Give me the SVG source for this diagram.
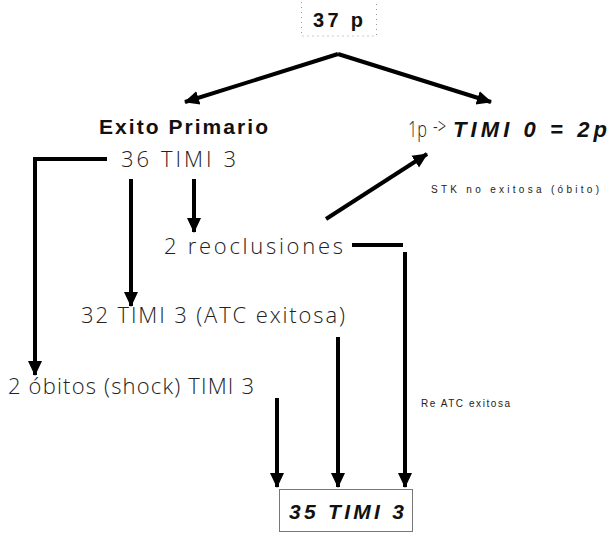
<svg xmlns="http://www.w3.org/2000/svg" width="616" height="535" viewBox="0 0 616 535">
<style>
.lt{font-family:"Open Sans","Liberation Sans",Arial,sans-serif;font-size:22px;fill:#222;font-weight:300}
.bd{font-family:"Liberation Sans",Arial,sans-serif;font-weight:bold;fill:#111}
.bi{font-family:"Liberation Sans",Arial,sans-serif;font-weight:bold;font-style:italic;fill:#111}
.sm{font-family:"Liberation Sans",Arial,sans-serif;font-size:10px;fill:#222}
.ln{fill:none;stroke:#000;stroke-width:4}
</style>
<defs>
<marker id="ah" markerUnits="userSpaceOnUse" markerWidth="16" markerHeight="16" viewBox="0 0 16 16" refX="14" refY="8" orient="auto">
<path d="M0,1 L15,8 L0,15 Z" fill="#000"/>
</marker>
</defs>
<rect width="616" height="535" fill="#fff"/>
<g id="connectors">
<path class="ln" d="M338,54 L185,102" marker-end="url(#ah)"/>
<path class="ln" d="M338,54 L491,102" marker-end="url(#ah)"/>
<path class="ln" d="M107,159 H35 V375" marker-end="url(#ah)"/>
<path class="ln" d="M194,179 V232" marker-end="url(#ah)"/>
<path class="ln" d="M131,179 V306" marker-end="url(#ah)"/>
<path class="ln" d="M326,219 L427,154" marker-end="url(#ah)"/>
<path class="ln" d="M352,245 H403 M405,252 V487" marker-end="url(#ah)"/>
<path class="ln" d="M338,337 V487" marker-end="url(#ah)"/>
<path class="ln" d="M277,398 V487" marker-end="url(#ah)"/>
</g>
<g id="n37">
<rect x="301.5" y="-1" width="75" height="37" fill="none" stroke="#999" stroke-width="1" stroke-dasharray="1,4"/>
<text class="bd" x="313" y="27" font-size="20" textLength="50" lengthAdjust="spacing">37 p</text>
</g>
<g id="exito">
<text class="bd" x="99" y="134" font-size="21" textLength="169" lengthAdjust="spacing">Exito Primario</text>
</g>
<g id="n36">
<text class="lt" x="121" y="167" textLength="115" lengthAdjust="spacing">36 TIMI 3</text>
</g>
<g id="timi0">
<text class="lt" x="408" y="137" font-size="20" textLength="19" lengthAdjust="spacingAndGlyphs">1p</text>
<text class="lt" x="433" y="134" font-size="12" textLength="13" lengthAdjust="spacingAndGlyphs">-&gt;</text>
<text class="bi" x="453" y="137" font-size="22" textLength="154" lengthAdjust="spacing">TIMI 0 = 2p</text>
</g>
<g id="stk">
<text class="sm" x="431" y="193" textLength="168" lengthAdjust="spacing">STK no exitosa (óbito)</text>
</g>
<g id="reocl">
<text class="lt" x="164" y="254" textLength="179" lengthAdjust="spacing">2 reoclusiones</text>
</g>
<g id="n32">
<text class="lt" x="81" y="323" textLength="264" lengthAdjust="spacing">32 TIMI 3 (ATC exitosa)</text>
</g>
<g id="obitos">
<text class="lt" x="8" y="394" textLength="246" lengthAdjust="spacing">2 óbitos (shock) TIMI 3</text>
</g>
<g id="reatc">
<text class="sm" x="421" y="407" font-size="9" textLength="89" lengthAdjust="spacing">Re ATC exitosa</text>
</g>
<g id="n35">
<rect x="279.5" y="489.5" width="133" height="42" fill="none" stroke="#777" stroke-width="1"/>
<text class="bi" x="289" y="519" font-size="21" textLength="115" lengthAdjust="spacing">35 TIMI 3</text>
</g>
</svg>
